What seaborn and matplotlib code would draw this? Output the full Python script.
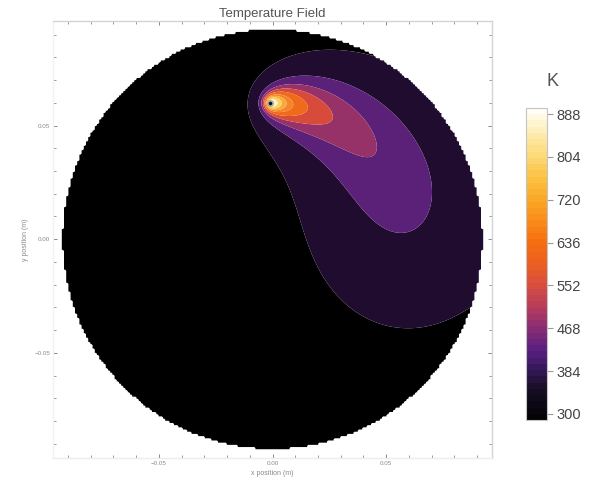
import numpy as np
import matplotlib
matplotlib.use("Agg")
import matplotlib.pyplot as plt
import seaborn as sns
from matplotlib.colors import LinearSegmentedColormap, ListedColormap, Normalize
from matplotlib.cm import ScalarMappable
from matplotlib.ticker import MultipleLocator

# ---------------- values ----------------
DISK_RADIUS = 0.0925            # m
SOURCE_X, SOURCE_Y = -0.001, 0.060   # current heat-source position (m)
PATH_START_DEG = -10.0          # where the (clockwise-trailing) scan path began
ROTATION_RATE = 6000.0          # angular speed / diffusivity
SOURCE_WIDTH = 0.0015           # m
PATH_STEPS = 400
AMBIENT_T = 300.0               # K
DARK_EDGE_RISE = 10.0           # K above ambient at the outermost contour

# positions of the band edges (m)
DARK_EDGE_X = [-0.0075, -0.003, 0.012, -0.0033, 0.0033, 0.0099, 0.021, 0.040, 0.070, 0.090]
DARK_EDGE_Y = [0.062, 0.075, 0.080, 0.039, 0.017, -0.007, -0.025, -0.028, -0.027, -0.0265]
PURPLE_EDGE_X = [0.0013, 0.034, 0.0589, 0.0717, 0.0606, 0.0487, 0.031, 0.012]
PURPLE_EDGE_Y = [0.0708, 0.062, 0.0429, 0.0252, 0.0066, 0.0088, 0.0208, 0.041]
MAGENTA_EDGE_X = [0.0044, 0.0456, 0.051, 0.0385, 0.019, 0.0044]
MAGENTA_EDGE_Y = [0.0677, 0.0518, 0.0354, 0.0354, 0.047, 0.054]
RED_EDGE_X = [0.012, 0.012, 0.0266]
RED_EDGE_Y = [0.0655, 0.0515, 0.058]
INNER_TIP_X = [0.0150, 0.0091, 0.0062, 0.0040, 0.0022]   # tips of the hot bands
INNER_TIP_Y = 0.0597

BAND_COLORS = ["#000000", "#200c2e", "#5b2078", "#963268", "#d84a3a",
               "#f06a1c", "#f4852a", "#f9aa3a", "#fbd25e", "#fdf2cc"]

CBAR_TICKS = [300, 384, 468, 552, 636, 720, 804, 888]
CBAR_MIN, CBAR_MAX = 288, 900
CMAP_POS = [0.0, 0.10, 0.16, 0.22, 0.29, 0.36, 0.43, 0.50, 0.57, 0.64, 0.71, 0.78, 0.85, 0.92, 1.0]
CMAP_COLORS = ["#030205", "#1a0f2a", "#38195e", "#5a2080", "#8a2d72", "#b63c5c",
               "#d84e3f", "#ec5f22", "#f56d10", "#f88c1a", "#faa726", "#fbc043",
               "#fdd873", "#fdeaaa", "#fffdf5"]

X_TICKS = [-0.05, 0.0, 0.05]
X_TICK_LABELS = ["\u22120.05", "0.00", "0.05"]
Y_TICKS = [-0.05, 0.0, 0.05]
Y_TICK_LABELS = ["\u22120.05", "0.00", "0.05"]
X_LIM = (-0.0965, 0.0965)
Y_LIM = (-0.0963, 0.0960)

# ---------------- moving heat source on the disk (superposed kernels) ----------------
r0 = np.hypot(SOURCE_X, SOURCE_Y)
th0 = np.arctan2(SOURCE_Y, SOURCE_X)
tmax = (th0 - np.deg2rad(PATH_START_DEG)) / ROTATION_RATE
tau = (np.arange(PATH_STEPS) + 0.5) * tmax / PATH_STEPS
pth = th0 - ROTATION_RATE * tau
px, py = r0 * np.cos(pth), r0 * np.sin(pth)
rimg = DISK_RADIUS**2 / r0
ix, iy = rimg * np.cos(pth), rimg * np.sin(pth)


def field(X, Y):
    X = np.asarray(X, float)
    Y = np.asarray(Y, float)
    F = np.zeros_like(X)
    for k in range(PATH_STEPS):
        s2 = 4 * tau[k] + 2 * SOURCE_WIDTH**2
        F += (np.exp(-((X - px[k])**2 + (Y - py[k])**2) / s2)
              + np.exp(-((X - ix[k])**2 + (Y - iy[k])**2) / s2)) / (np.pi * s2)
    return F


edge_sets = [(DARK_EDGE_X, DARK_EDGE_Y), (PURPLE_EDGE_X, PURPLE_EDGE_Y),
             (MAGENTA_EDGE_X, MAGENTA_EDGE_Y), (RED_EDGE_X, RED_EDGE_Y)]
edge_F = [np.median(field(ex, ey)) for ex, ey in edge_sets]
edge_F += list(field(INNER_TIP_X, [INNER_TIP_Y] * len(INNER_TIP_X)))
edge_F = np.maximum.accumulate(np.array(edge_F))
scale = DARK_EDGE_RISE / edge_F[0]
contour_levels = AMBIENT_T + scale * edge_F

NG = 400
gx = np.linspace(X_LIM[0], X_LIM[1], NG)
gy = np.linspace(Y_LIM[0], Y_LIM[1], NG)
GX, GY = np.meshgrid(gx, gy)
TG = AMBIENT_T + scale * field(GX, GY)
# coarse (block) mask gives the ragged rim of the mesh
BX = (np.floor(np.arange(NG) / 2) * 2 + 0.5)
bx = np.interp(BX, np.arange(NG), gx)
by = np.interp(BX, np.arange(NG), gy)
BGX, BGY = np.meshgrid(bx, by)
TG = np.ma.masked_where(np.hypot(BGX, BGY) > DISK_RADIUS, TG)

# ---------------- plotting ----------------
sns.set_theme(style="white")
plt.rcParams["font.family"] = ["Liberation Sans", "DejaVu Sans"]

fig = plt.figure(figsize=(5.9, 4.87), dpi=100)
ax = fig.add_axes([53 / 590, 1 - 458 / 487, 439 / 590, 437 / 487])

levels = [-1e9] + list(contour_levels) + [1e12]
ax.contourf(GX, GY, TG, levels=levels, colors=BAND_COLORS, antialiased=True)
ax.scatter([SOURCE_X], [SOURCE_Y], s=14, c="#141414", edgecolors="#a8a8a8",
           linewidths=1.2, zorder=5)

ax.set_xlim(*X_LIM)
ax.set_ylim(*Y_LIM)
ax.set_xticks(X_TICKS)
ax.set_xticklabels(X_TICK_LABELS)
ax.set_yticks(Y_TICKS)
ax.set_yticklabels(Y_TICK_LABELS)
ax.xaxis.set_minor_locator(MultipleLocator(0.01))
ax.yaxis.set_minor_locator(MultipleLocator(0.01))
ax.tick_params(which="both", direction="in", top=True, right=True, left=True, bottom=True,
               colors="#8a8a8a", labelsize=4.5, labelcolor="#8a8a8a", pad=2)
ax.tick_params(which="major", length=3, width=0.7)
ax.tick_params(which="minor", length=2, width=0.6)
for side, col in {"top": "#d4d4d4", "right": "#d4d4d4",
                  "bottom": "#ededed", "left": "#f2f2f2"}.items():
    ax.spines[side].set_color(col)
    ax.spines[side].set_linewidth(1.0)
ax.set_xlabel("x position (m)", fontsize=5, color="#8a8a8a", labelpad=3)
ax.set_ylabel("y position (m)", fontsize=5, color="#8a8a8a", labelpad=4)
ax.set_title("Temperature Field", fontsize=9.5, color="#555555", pad=3)

# colorbar
cmap_smooth = LinearSegmentedColormap.from_list("temp", list(zip(CMAP_POS, CMAP_COLORS)))
cmap_banded = ListedColormap(cmap_smooth(np.linspace(0, 1, 50)))
cax = fig.add_axes([526 / 590, 1 - 420 / 487, 21 / 590, 312 / 487])
sm = ScalarMappable(norm=Normalize(CBAR_MIN, CBAR_MAX), cmap=cmap_banded)
cb = fig.colorbar(sm, cax=cax, ticks=CBAR_TICKS)
cb.outline.set_edgecolor("#c4c4c4")
cb.outline.set_linewidth(0.8)
cax.tick_params(length=4, width=0.8, color="#9a9a9a", labelsize=10.5,
                labelcolor="#444444", pad=3)
fig.text(552 / 590, 1 - 81 / 487, "K", ha="center", va="center",
         fontsize=13, color="#555555")

fig.savefig("out.png", dpi=100)
